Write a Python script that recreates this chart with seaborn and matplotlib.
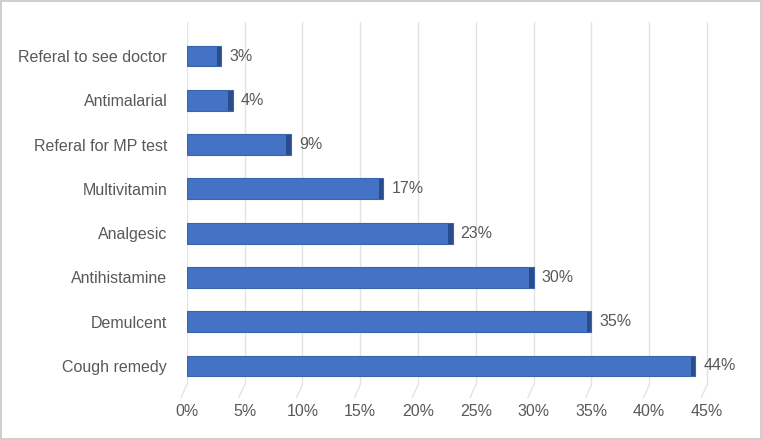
"""Horizontal bar chart of prescribed treatments (Excel-style 3D bars)."""
import numpy as np
import pandas as pd
import matplotlib
matplotlib.use("Agg")
import matplotlib.pyplot as plt
import matplotlib.transforms as mtransforms
import seaborn as sns

categories = ["Referal to see doctor", "Antimalarial", "Referal for MP test", "Multivitamin",
              "Analgesic", "Antihistamine", "Demulcent", "Cough remedy"]
percents = [3, 4, 9, 17, 23, 30, 35, 44]
xticks = [0, 5, 10, 15, 20, 25, 30, 35, 40, 45]

sns.set_theme(style="white")
plt.rcParams["font.family"] = ["Liberation Sans", "DejaVu Sans"]

BLUE = "#4472C4"
DARK = "#2B4C8C"
TEXT = "#595959"
GRID = "#E3E3E3"
FS = 11.5

df = pd.DataFrame({"category": categories, "pct": percents})

fig = plt.figure(figsize=(7.62, 4.40), dpi=100)
fig.patch.set_edgecolor("#CFCFCF")
fig.patch.set_linewidth(1.5)
ax = fig.add_axes([0.245, 0.125, 0.692, 0.825])

sns.barplot(data=df, x="pct", y="category", color=BLUE, width=0.47,
            saturation=1, linewidth=0, ax=ax, zorder=3)

# darker end face and outline to fake the 3D look
end_w = 0.4
for i, v in enumerate(percents):
    ax.barh(i, end_w, left=v - end_w, height=0.47, color=DARK, linewidth=0, zorder=4)
    ax.barh(i, v, height=0.47, facecolor="none", edgecolor="#3A64AE",
            linewidth=0.8, zorder=5)
    ax.text(v + 0.7, i, f"{v}%", va="center", ha="left", fontsize=FS, color=TEXT)

ax.set_xlim(0, 45.6)
ax.set_ylim(7.43, -0.77)
ax.set_xticks(xticks)
ax.set_xticklabels([f"{t}%" for t in xticks])
ax.tick_params(axis="x", length=0, pad=14, labelsize=FS, colors=TEXT)
ax.tick_params(axis="y", length=0, pad=14, labelsize=FS, colors=TEXT)
ax.set_xlabel("")
ax.set_ylabel("")
ax.grid(axis="x", color=GRID, linewidth=1, zorder=0)
for s in ax.spines.values():
    s.set_visible(False)

# small slanted floor ticks under the gridlines
trans = mtransforms.blended_transform_factory(ax.transData, ax.transAxes)
for t in xticks:
    ax.plot([t, t - 0.5], [0, -0.035], transform=trans, color=GRID,
            linewidth=1, clip_on=False)

plt.savefig("out.png", dpi=100)
plt.close()
